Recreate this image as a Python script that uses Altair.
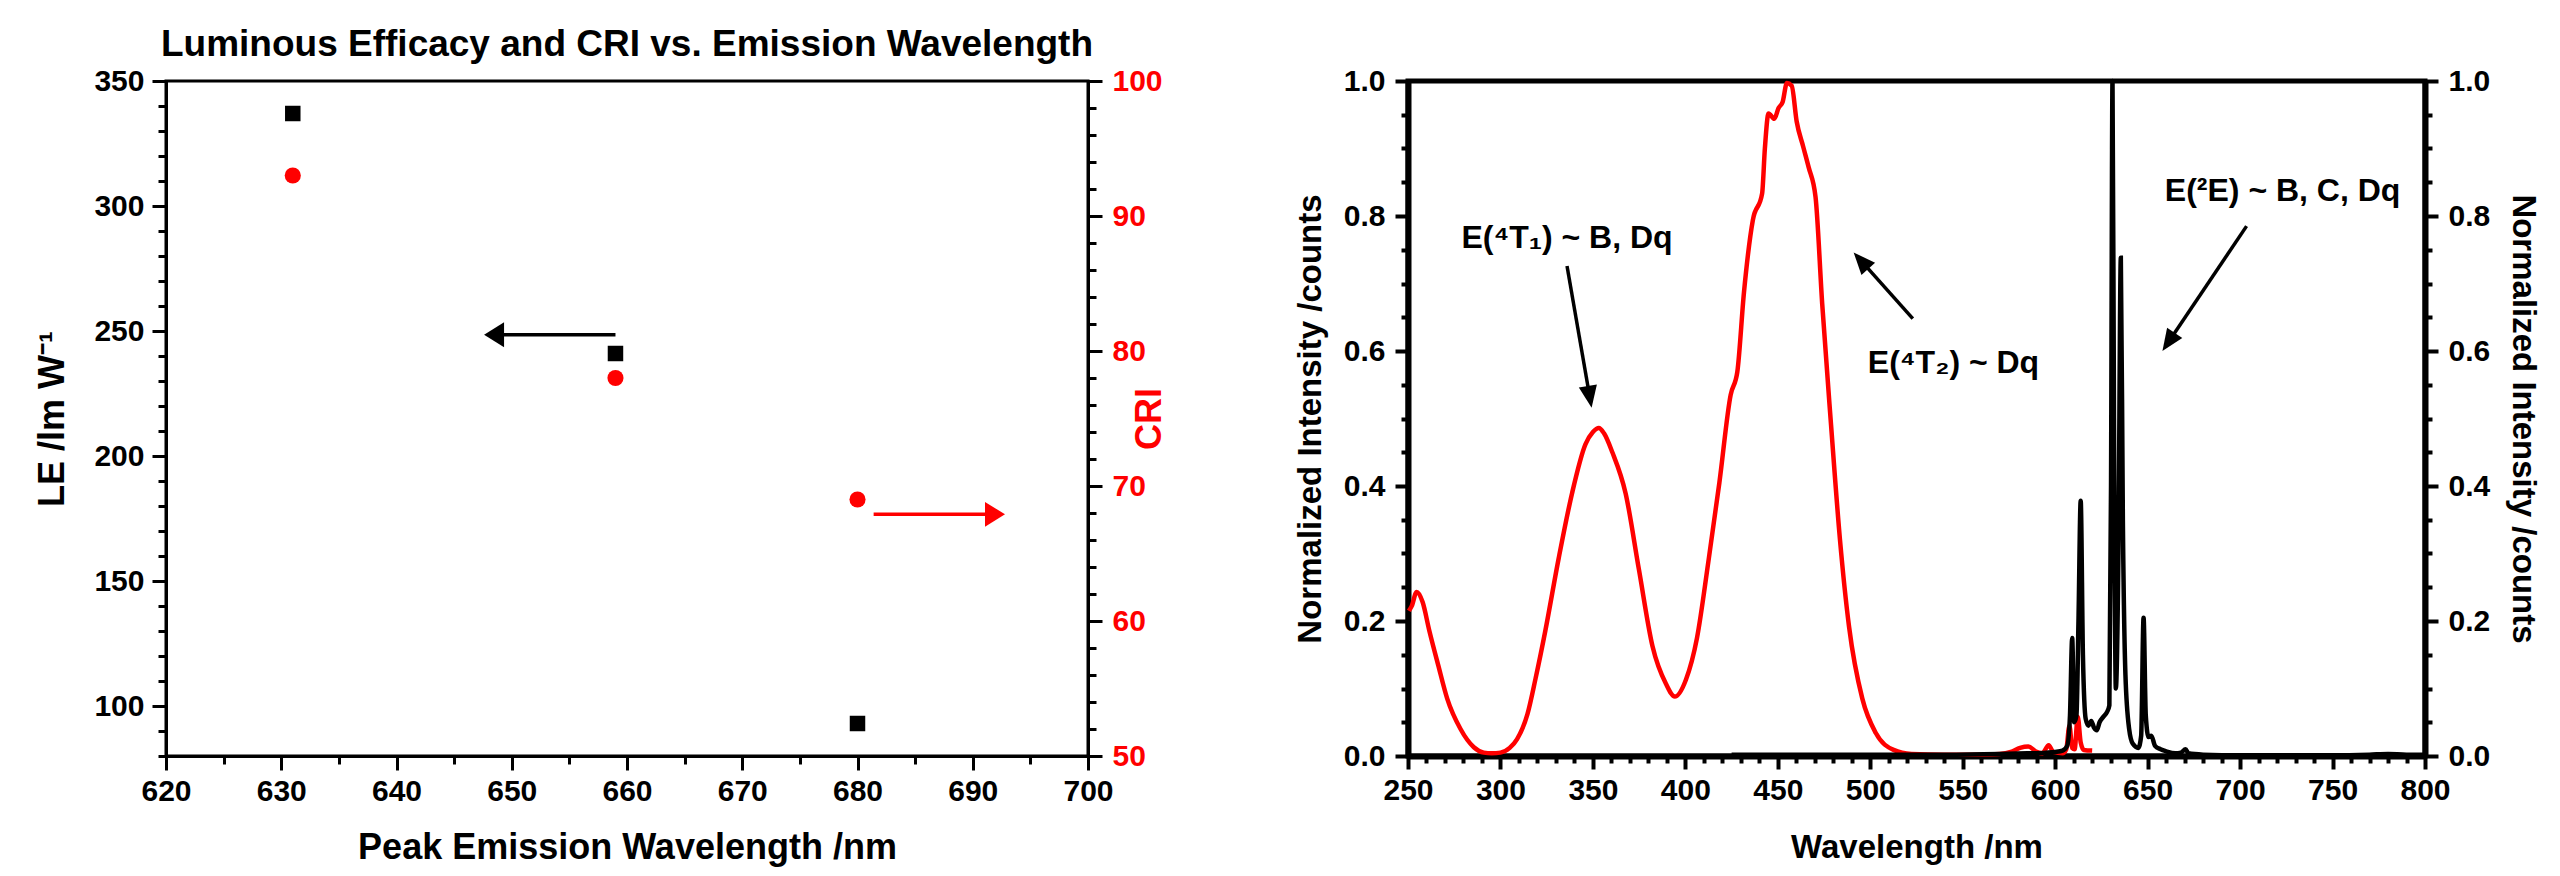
import math
import altair as alt
import pandas as pd

FONT = "Liberation Sans"
RED = "#FF0000"

# ---------------- Left panel data ----------------
peak_wavelength = [631, 659, 680]
luminous_efficacy = [337, 241, 93]
cri_values = [93, 78, 69]

# arrows in the left panel (start x, tip x, y)
le_arrow = {"x1": 659.0, "x2": 647.6, "y": 248.5}
cri_arrow = {"x1": 681.4, "x2": 692.8, "y": 67.9}

left_x_major = [620, 630, 640, 650, 660, 670, 680, 690, 700]
left_x_minor = [625, 635, 645, 655, 665, 675, 685, 695]
le_major = [100, 150, 200, 250, 300, 350]
le_minor = [v for v in range(80, 351, 10) if v % 50 != 0]
cri_major = [50, 60, 70, 80, 90, 100]
cri_minor = [v for v in range(50, 101, 2) if v % 10 != 0]

# ---------------- Right panel data ----------------
exc_wl = [250.5, 252, 254.7, 257.9, 261.5, 266.3, 271.2, 278.4, 285.6, 291, 295.3, 300, 305, 309,
          314.6, 319, 324.3, 331.5, 338.7, 346, 350, 353.2, 356, 360.5, 367.7, 374.9, 382.2, 389.5,
          394.3, 400.3, 406.3, 412.4, 418.4, 424.5, 428.1, 431.7, 436.5, 441.5, 443, 445, 448.1,
          450.4, 452.6, 454.9, 457.5, 460.2, 463.7, 466.7, 470.4, 474, 478.8, 483.6, 488.5, 495.7,
          503, 512.6, 522.3, 540, 560, 570, 576, 581, 585.5, 590, 593, 596.5, 599, 604, 606, 607.7,
          609.2, 610.5, 612.2, 613.8, 615.5, 620]
exc_int = [0.215, 0.222, 0.243, 0.228, 0.186, 0.135, 0.085, 0.040, 0.013, 0.005, 0.004, 0.005, 0.012,
           0.025, 0.062, 0.115, 0.186, 0.293, 0.389, 0.462, 0.480, 0.486, 0.478, 0.450, 0.389, 0.276,
           0.163, 0.107, 0.088, 0.113, 0.175, 0.287, 0.405, 0.535, 0.569, 0.687, 0.794, 0.833, 0.900,
           0.952, 0.944, 0.960, 0.969, 0.997, 0.993, 0.940, 0.903, 0.872, 0.828, 0.670, 0.490, 0.321,
           0.192, 0.085, 0.034, 0.009, 0.003, 0.002, 0.002, 0.003, 0.006, 0.012, 0.014, 0.006, 0.004,
           0.016, 0.006, 0.004, 0.010, 0.045, 0.012, 0.010, 0.058, 0.020, 0.009, 0.008]

em_wl = [425, 480, 540, 570, 585, 595, 600, 604, 606.5, 608, 609.2, 610.3, 611.5, 612.6, 613.8, 615,
         616.5, 618, 619.5, 621, 622.5, 624, 626, 628, 629.3, 630.2, 631, 631.8, 632.8, 634.2, 635.5,
         636.6, 638, 640, 642, 645, 646.5, 647.8, 649, 650.5, 652, 654, 657, 660, 665, 668, 670.5,
         672, 680, 700, 750, 770, 780, 790, 800]
em_int = [0.002, 0.002, 0.002, 0.003, 0.004, 0.005, 0.006, 0.008, 0.015, 0.06, 0.175, 0.05, 0.06, 0.2,
          0.378, 0.15, 0.055, 0.045, 0.052, 0.042, 0.038, 0.05, 0.058, 0.065, 0.075, 0.4, 1.0, 0.5,
          0.1, 0.3, 0.738, 0.35, 0.12, 0.04, 0.018, 0.012, 0.03, 0.205, 0.06, 0.028, 0.03, 0.015, 0.01,
          0.007, 0.004, 0.005, 0.01, 0.004, 0.002, 0.001, 0.001, 0.002, 0.003, 0.002, 0.002]

note_text = ["E(⁴T₁) ~ B, Dq", "E(⁴T₂) ~ Dq", "E(²E) ~ B, C, Dq"]
note_x = [336, 545, 723]
note_y = [0.767, 0.582, 0.837]
note_arrow_x1 = [336, 523, 703.5]
note_arrow_y1 = [0.726, 0.648, 0.785]
note_arrow_x2 = [349.3, 491, 658]
note_arrow_y2 = [0.516, 0.746, 0.600]

right_x_major = [250, 300, 350, 400, 450, 500, 550, 600, 650, 700, 750, 800]
right_x_minor = [v for v in range(250, 801, 10) if v % 50 != 0]
right_y_major = [0.0, 0.2, 0.4, 0.6, 0.8, 1.0]
right_y_minor = [round(i * 0.05, 2) for i in range(21) if i % 4 != 0]

# ---------------- geometry ----------------
LW, LH = 922, 675
RW, RH = 1017, 675
LX = [620, 700]; LE_D = [80, 350]; CRI_D = [50, 100]
RX = [250, 800]; RY = [0, 1]

HEAD_R = "M0,0 L-0.5,1.2 L0.5,1.2 Z"
HEAD_L = "M0,0 L-0.62,1 L0.62,1 Z"


def arrow_frame(x1, y1, x2, y2, kx, ky, head_len):
    rows = []
    for a, b, c, d in zip(x1, y1, x2, y2):
        dx = (c - a) * kx
        dy = -(d - b) * ky
        ang = math.degrees(math.atan2(dx, -dy)) % 360
        L = math.hypot(dx, dy)
        f = max(0.0, (L - head_len * 0.7) / L)
        rows.append({"x": a, "y": b, "x2": a + (c - a) * f, "y2": b + (d - b) * f,
                     "tx": c, "ty": d, "angle": ang})
    return pd.DataFrame(rows)


def sc(domain):
    return alt.Scale(domain=domain, nice=False, zero=False)


def major_axis(title, orient, values, width, tick, fsize, tsize, lpad, tpad, fmt=None,
               label_color="black", title_color="black", angle=None):
    kw = dict(title=title, orient=orient, values=values, tickSize=tick, tickWidth=width,
              domainWidth=width + (2 if width > 3 else 0), labelFontSize=fsize, titleFontSize=tsize,
              labelPadding=lpad, titlePadding=tpad, labelOverlap=False, labelFlush=False,
              labelColor=label_color, titleColor=title_color)
    if fmt:
        kw["format"] = fmt
    if angle is not None:
        kw["titleAngle"] = angle
    return alt.Axis(**kw)


def minor_axis(orient, values, width, tick):
    return alt.Axis(title=None, orient=orient, values=values, tickSize=tick, tickWidth=width,
                    labels=False, domain=False)


# ---------------- left panel ----------------
kx_l = LW / (LX[1] - LX[0])
ky_le = LH / (LE_D[1] - LE_D[0])
ky_cri = LH / (CRI_D[1] - CRI_D[0])

pts = pd.DataFrame({"x": peak_wavelength, "le": luminous_efficacy, "cri": cri_values})
le_arr = arrow_frame([le_arrow["x1"]], [le_arrow["y"]], [le_arrow["x2"]], [le_arrow["y"]], kx_l, ky_le, 20)
cri_arr = arrow_frame([cri_arrow["x1"]], [cri_arrow["y"]], [cri_arrow["x2"]], [cri_arrow["y"]], kx_l, ky_cri, 20)

lx_major = major_axis("Peak Emission Wavelength /nm", "bottom", left_x_major, 3, 14, 30, 36, 6, 24)
lx_minor = minor_axis("bottom", left_x_minor, 3, 8)
le_ax = major_axis("LE /lm W⁻¹", "left", le_major, 3, 14, 30, 36, 8, 22)
le_ax_minor = minor_axis("left", le_minor, 3, 8)
cri_ax = major_axis("CRI", "right", cri_major, 3, 14, 30, 36, 10, 6,
                    label_color=RED, title_color=RED, angle=270)
cri_ax_minor = minor_axis("right", cri_minor, 3, 8)

sq = alt.Chart(pts).mark_square(size=240, color="black", opacity=1).encode(
    x=alt.X("x:Q", scale=sc(LX), axis=lx_major),
    y=alt.Y("le:Q", scale=sc(LE_D), axis=le_ax))
sq_minor = alt.Chart(pts).mark_point(opacity=0).encode(
    x=alt.X("x:Q", scale=sc(LX), axis=lx_minor),
    y=alt.Y("le:Q", scale=sc(LE_D), axis=le_ax_minor))
circ = alt.Chart(pts).mark_circle(size=260, color=RED, opacity=1).encode(
    x=alt.X("x:Q", scale=sc(LX), axis=None),
    y=alt.Y("cri:Q", scale=sc(CRI_D), axis=cri_ax))
circ_minor = alt.Chart(pts).mark_point(opacity=0).encode(
    x=alt.X("x:Q", scale=sc(LX), axis=None),
    y=alt.Y("cri:Q", scale=sc(CRI_D), axis=cri_ax_minor))


def arrow_layers(df, dom_x, dom_y, color, shape, size):
    rule = alt.Chart(df).mark_rule(color=color, strokeWidth=3.5).encode(
        x=alt.X("x:Q", scale=sc(dom_x), axis=None), x2="x2:Q",
        y=alt.Y("y:Q", scale=sc(dom_y), axis=None), y2="y2:Q")
    head = alt.Chart(df).mark_point(shape=shape, filled=True, color=color, size=size,
                                    opacity=1, strokeWidth=0).encode(
        x=alt.X("tx:Q", scale=sc(dom_x), axis=None),
        y=alt.Y("ty:Q", scale=sc(dom_y), axis=None),
        angle=alt.Angle("angle:Q", scale=None))
    return [rule, head]


left = alt.layer(
    sq, sq_minor, circ, circ_minor,
    *arrow_layers(le_arr, LX, LE_D, "black", HEAD_L, 1600),
    *arrow_layers(cri_arr, LX, CRI_D, RED, HEAD_L, 1600),
).resolve_scale(x="independent", y="independent").properties(
    width=LW, height=LH,
    title=alt.TitleParams("Luminous Efficacy and CRI vs. Emission Wavelength", fontSize=37,
                          font=FONT, fontWeight="bold", anchor="middle", offset=2),
    view=alt.ViewBackground(stroke="black", strokeWidth=3))

# ---------------- right panel ----------------
kx_r = RW / (RX[1] - RX[0])
ky_r = RH / (RY[1] - RY[0])

exc = pd.DataFrame({"x": exc_wl, "y": exc_int})
em = pd.DataFrame({"x": em_wl, "y": em_int})
notes = pd.DataFrame({"x": note_x, "y": note_y, "t": note_text})
narr = arrow_frame(note_arrow_x1, note_arrow_y1, note_arrow_x2, note_arrow_y2, kx_r, ky_r, 22)

rx_major = major_axis("Wavelength /nm", "bottom", right_x_major, 4, 13, 30, 33, 6, 26)
rx_minor = minor_axis("bottom", right_x_minor, 4, 7)
ry_left = major_axis("Normalized Intensity /counts", "left", right_y_major, 4, 13, 30, 33, 10, 16,
                     fmt=".1f", angle=270)
ry_left_minor = minor_axis("left", right_y_minor, 4, 7)
ry_right = major_axis("Normalized Intensity /counts", "right", right_y_major, 4, 13, 30, 33, 10, 16,
                      fmt=".1f", angle=90)
ry_right_minor = minor_axis("right", right_y_minor, 4, 7)

exc_line = alt.Chart(exc).mark_line(color=RED, strokeWidth=4.5, interpolate="monotone").encode(
    x=alt.X("x:Q", scale=sc(RX), axis=rx_major), y=alt.Y("y:Q", scale=sc(RY), axis=ry_left))
exc_minor = alt.Chart(exc).mark_point(opacity=0).encode(
    x=alt.X("x:Q", scale=sc(RX), axis=rx_minor), y=alt.Y("y:Q", scale=sc(RY), axis=ry_left_minor))
em_line = alt.Chart(em).mark_line(color="black", strokeWidth=4.5, interpolate="monotone").encode(
    x=alt.X("x:Q", scale=sc(RX), axis=None), y=alt.Y("y:Q", scale=sc(RY), axis=ry_right))
em_minor = alt.Chart(em).mark_point(opacity=0).encode(
    x=alt.X("x:Q", scale=sc(RX), axis=None), y=alt.Y("y:Q", scale=sc(RY), axis=ry_right_minor))
n_text = alt.Chart(notes).mark_text(font=FONT, fontSize=32, fontWeight="bold", color="black",
                                    align="center", baseline="middle").encode(
    x=alt.X("x:Q", scale=sc(RX), axis=None), y=alt.Y("y:Q", scale=sc(RY), axis=None), text="t:N")

right = alt.layer(
    exc_line, exc_minor, em_line, em_minor,
    *arrow_layers(narr, RX, RY, "black", HEAD_R, 1340), n_text,
).resolve_scale(x="independent", y="independent").properties(
    width=RW, height=RH, view=alt.ViewBackground(stroke="black", strokeWidth=5))

chart = alt.hconcat(left, right, spacing=122).properties(
    background="white",
    padding={"left": 33, "top": 24, "right": 5, "bottom": 5},
).configure_axis(
    labelFont=FONT, titleFont=FONT, labelFontWeight="bold", titleFontWeight="bold",
    grid=False, domainColor="black", tickColor="black",
).configure_view(stroke="black")

chart.save("out.html", embed_options={"renderer": "svg", "actions": False})
